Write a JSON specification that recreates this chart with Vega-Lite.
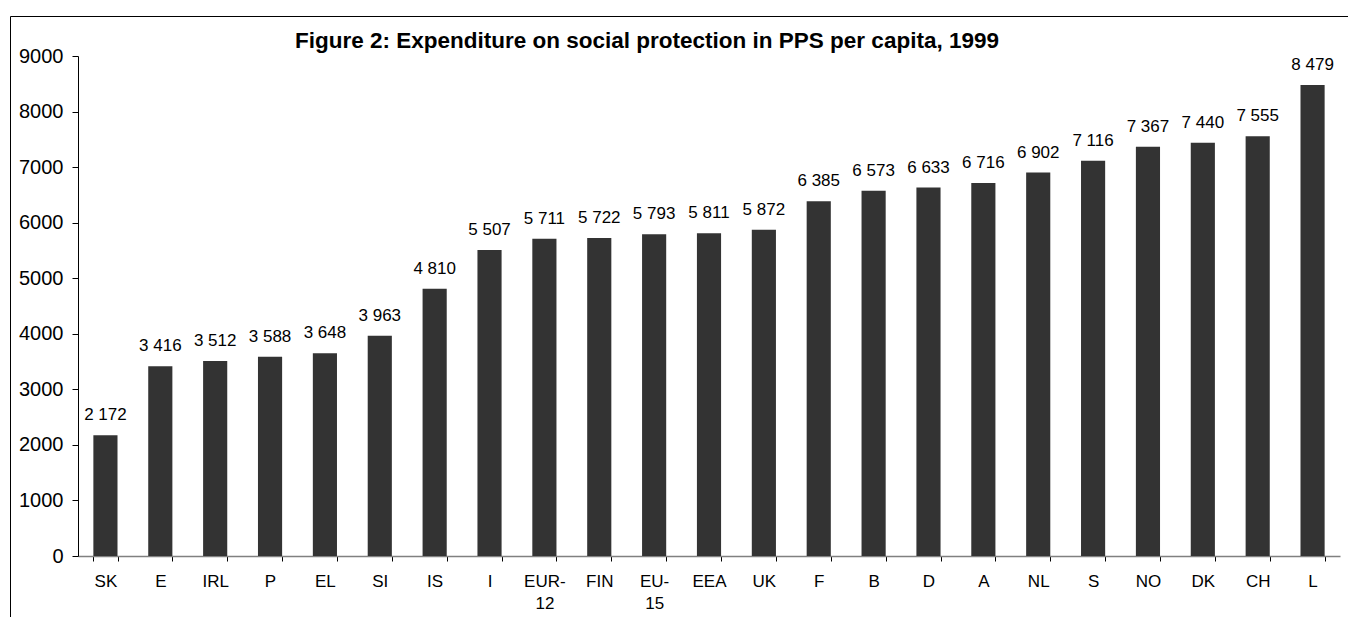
{
  "$schema": "https://vega.github.io/schema/vega-lite/v6.json",
  "autosize": "none",
  "width": 1338,
  "height": 601,
  "padding": {"left": 10, "top": 16, "right": 0, "bottom": 0},
  "background": "white",
  "title": {
    "text": "Figure 2: Expenditure on social protection in PPS per capita, 1999",
    "font": "Liberation Sans",
    "fontSize": 22.5,
    "fontWeight": "bold",
    "color": "black",
    "anchor": "middle",
    "frame": "group",
    "baseline": "alphabetic",
    "offset": -54,
    "dx": -32
  },
  "data": {
    "values": [
      {"country": "SK", "value": 2172},
      {"country": "E", "value": 3416},
      {"country": "IRL", "value": 3512},
      {"country": "P", "value": 3588},
      {"country": "EL", "value": 3648},
      {"country": "SI", "value": 3963},
      {"country": "IS", "value": 4810},
      {"country": "I", "value": 5507},
      {"country": "EUR-12", "value": 5711},
      {"country": "FIN", "value": 5722},
      {"country": "EU-15", "value": 5793},
      {"country": "EEA", "value": 5811},
      {"country": "UK", "value": 5872},
      {"country": "F", "value": 6385},
      {"country": "B", "value": 6573},
      {"country": "D", "value": 6633},
      {"country": "A", "value": 6716},
      {"country": "NL", "value": 6902},
      {"country": "S", "value": 7116},
      {"country": "NO", "value": 7367},
      {"country": "DK", "value": 7440},
      {"country": "CH", "value": 7555},
      {"country": "L", "value": 8479}
    ]
  },
  "encoding": {
    "x": {
      "field": "country",
      "type": "nominal",
      "sort": null,
      "title": null,
      "scale": {"range": [68, 1330], "paddingInner": 0.56, "paddingOuter": 0.28},
      "axis": {
        "offset": -61,
        "labelAngle": 0,
        "labelFont": "Liberation Sans",
        "labelFontSize": 17,
        "labelColor": "black",
        "labelPadding": 12,
        "labelLineHeight": 22,
        "labelExpr": "datum.label == 'EUR-12' ? ['EUR-', '12'] : datum.label == 'EU-15' ? ['EU-', '15'] : datum.label",
        "tickBand": "extent",
        "tickSize": 5,
        "tickColor": "black",
        "domainColor": "#808080",
        "domainWidth": 1.5
      }
    },
    "y": {
      "field": "value",
      "type": "quantitative",
      "title": null,
      "scale": {"domain": [0, 9000], "nice": false, "range": [540, 40]},
      "axis": {
        "offset": -68,
        "values": [0, 1000, 2000, 3000, 4000, 5000, 6000, 7000, 8000, 9000],
        "format": "d",
        "grid": false,
        "labelFont": "Liberation Sans",
        "labelFontSize": 20,
        "labelColor": "black",
        "labelPadding": 9,
        "tickSize": 6,
        "tickColor": "black",
        "domainColor": "black"
      }
    }
  },
  "layer": [
    {"mark": {"type": "bar", "color": "#333333"}},
    {
      "mark": {"type": "text", "font": "Liberation Sans", "fontSize": 17, "color": "black", "baseline": "alphabetic", "dy": -15},
      "encoding": {"text": {"field": "value", "type": "quantitative", "format": ",d"}}
    }
  ],
  "config": {
    "view": {"stroke": "black", "strokeWidth": 1},
    "locale": {"number": {"decimal": ".", "thousands": " ", "grouping": [3], "currency": ["", ""]}}
  }
}
